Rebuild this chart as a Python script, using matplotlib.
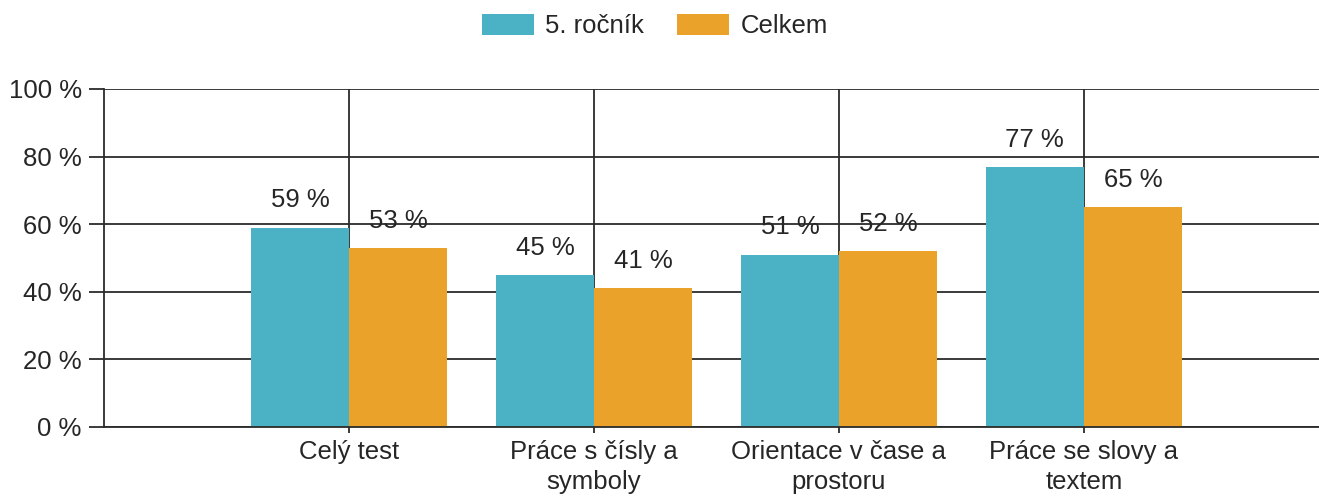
import numpy as np
import matplotlib.pyplot as plt

plt.rcParams['font.family'] = ['Liberation Sans', 'DejaVu Sans']

categories = ['Celý test', 'Práce s čísly a\nsymboly', 'Orientace v čase a\nprostoru', 'Práce se slovy a\ntextem']
rocnik5 = [59, 45, 51, 77]
celkem = [53, 41, 52, 65]
yticks = [0, 20, 40, 60, 80, 100]

teal = '#4BB2C5'
orange = '#EAA22B'
grid_col = '#2b2b2b'
text_col = '#262626'
fs = 18.5

fig = plt.figure(figsize=(13.19, 4.96), dpi=100)
ax = fig.add_axes([104 / 1319, 1 - 427 / 496, 1 - 104 / 1319, (427 - 89) / 496])

x = np.arange(1, len(categories) + 1)
w = 0.4
b1 = ax.bar(x - w / 2, rocnik5, w, color=teal, label='5. ročník', zorder=2)
b2 = ax.bar(x + w / 2, celkem, w, color=orange, label='Celkem', zorder=2)

# value labels above bars
for bars, vals in ((b1, rocnik5), (b2, celkem)):
    for rect, v in zip(bars, vals):
        ax.text(rect.get_x() + rect.get_width() / 2, v + 4.5, f'{v} %',
                ha='center', va='bottom', fontsize=fs, color=text_col, zorder=4)

ax.set_xlim(0, 4.96)
ax.set_ylim(0, 100)
ax.set_xticks(x)
ax.set_xticklabels(categories, fontsize=fs, color=text_col, linespacing=1.3)
ax.set_yticks(yticks)
ax.set_yticklabels([f'{t} %' for t in yticks], fontsize=fs, color=text_col)

ax.grid(True, color=grid_col, linewidth=1.3, zorder=0)
ax.set_axisbelow(True)
for s in ('top', 'right'):
    ax.spines[s].set_visible(False)
for s in ('left', 'bottom'):
    ax.spines[s].set_color(grid_col)
    ax.spines[s].set_linewidth(1.3)
ax.tick_params(axis='y', length=11, width=1.3, color=grid_col, pad=5)
ax.tick_params(axis='x', length=4.5, width=1.3, color=grid_col, pad=5)

fig.legend(handles=[b1, b2], labels=['5. ročník', 'Celkem'], loc='center',
           bbox_to_anchor=(655 / 1319, 1 - 26 / 496), ncol=2, frameon=False, fontsize=fs,
           handlelength=2.0, handleheight=0.9, columnspacing=1.3, handletextpad=0.45,
           labelcolor=text_col, borderpad=0)

fig.savefig('out.png', dpi=100)
